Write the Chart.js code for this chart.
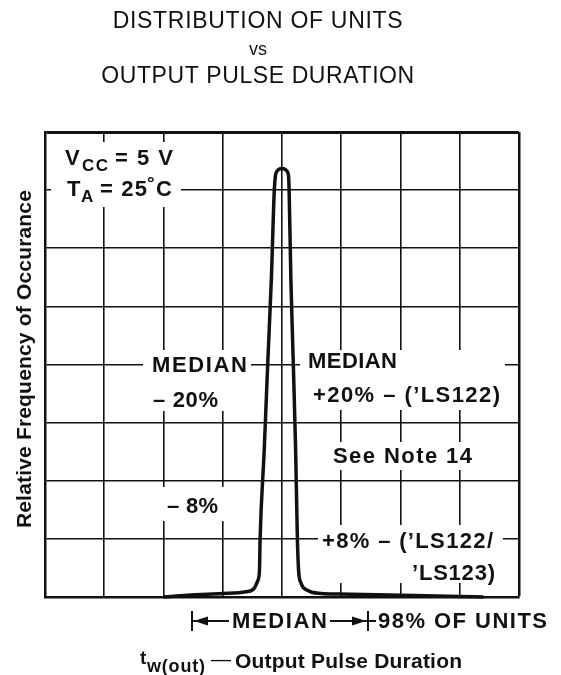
<!DOCTYPE html>
<html>
<head>
<meta charset="utf-8">
<script src="https://cdn.jsdelivr.net/npm/chart.js@4.4.1/dist/chart.umd.min.js"></script>
<style>
  html, body { margin: 0; padding: 0; background: #fff; }
  #wrap { position: relative; width: 561px; height: 675px; }
</style>
</head>
<body>
<div id="wrap"><canvas id="dist-chart" width="561" height="675"></canvas></div>
<script>
// x = pulse duration offset from the median (grid divisions), y = relative frequency (grid divisions)
const pulseOffsets = [-2.0, -1.6, -1.01, -0.61, -0.47, -0.41, -0.38, -0.37, -0.30, -0.24, -0.18, -0.13, -0.11, -0.08, -0.05, 0,
                      0.05, 0.08, 0.11, 0.12, 0.15, 0.19, 0.23, 0.26, 0.28, 0.32, 0.42, 0.66, 0.96, 2.01, 3.0, 3.4];
const frequencies  = [0, 0.03, 0.06, 0.09, 0.15, 0.28, 0.46, 0.98, 2.53, 4.04, 5.46, 7.0, 7.25, 7.33, 7.36, 7.37,
                      7.36, 7.33, 7.25, 7.0, 5.46, 4.04, 2.53, 0.98, 0.46, 0.24, 0.12, 0.06, 0.05, 0.03, 0.01, 0];
const xRange = [-4, 4];
const yRange = [0, 8];

const titleLines = ['DISTRIBUTION OF UNITS', 'vs', 'OUTPUT PULSE DURATION'];
const yAxisTitle = 'Relative Frequency of Occurance';

const INK = '#111';
const FONT = '"Liberation Sans", Arial, Helvetica, sans-serif';

// draw text, stretched with letter spacing to a target width
function fitText(ctx, text, x, y, w, size, weight) {
    ctx.font = `${weight || 'bold'} ${size}px ${FONT}`;
    ctx.letterSpacing = '0px';
    if (w) {
        const m = ctx.measureText(text).width;
        const n = Math.max(text.length - 1, 1);
        ctx.letterSpacing = ((w - m) / n) + 'px';
    }
    ctx.fillText(text, x, y);
    ctx.letterSpacing = '0px';
}

function arrowHead(ctx, tipX, y, dir) {
    ctx.beginPath();
    ctx.moveTo(tipX, y);
    ctx.lineTo(tipX - dir * 14, y - 4.5);
    ctx.lineTo(tipX - dir * 14, y + 4.5);
    ctx.closePath();
    ctx.fill();
}

const annotations = {
    id: 'annotations',
    beforeDatasetsDraw(chart) {
        const ctx = chart.ctx;
        ctx.save();

        // white blocks that break the grid behind the labels
        ctx.fillStyle = '#fff';
        [[51, 142, 181, 207], [143, 350, 251, 411], [157, 487, 226, 521],
         [300, 350, 505, 410], [327, 442, 478, 470], [318, 525, 503, 583]].forEach(b => {
            ctx.fillRect(b[0], b[1], b[2] - b[0], b[3] - b[1]);
        });

        ctx.fillStyle = INK;
        ctx.textAlign = 'left';
        ctx.textBaseline = 'alphabetic';

        // conditions
        fitText(ctx, 'V', 65, 165, 0, 22);
        fitText(ctx, 'CC', 82, 171, 26, 17);
        fitText(ctx, '= 5 V', 115, 165, 58, 22);
        fitText(ctx, 'T', 67, 196, 0, 22);
        fitText(ctx, 'A', 81, 202, 0, 17);
        fitText(ctx, '= 25', 100, 196, 47, 22);
        fitText(ctx, '°', 147, 189, 0, 19);
        fitText(ctx, 'C', 156, 196, 0, 22);

        // left-side limits
        fitText(ctx, 'MEDIAN', 152, 372, 95, 22);
        fitText(ctx, '– 20%', 153, 407, 65, 22);
        fitText(ctx, '– 8%', 167, 513, 51, 22);

        // right-side limits
        fitText(ctx, 'MEDIAN', 308, 368, 89, 22);
        fitText(ctx, '+20% – (’LS122)', 313, 402, 187, 22);
        fitText(ctx, 'See Note 14', 333, 463, 139, 22);
        fitText(ctx, '+8% – (’LS122/', 322, 548, 171, 22);
        fitText(ctx, '’LS123)', 412, 580, 83, 22);

        ctx.restore();
    },
    afterDraw(chart) {
        const ctx = chart.ctx;
        ctx.save();
        ctx.fillStyle = INK;
        ctx.strokeStyle = INK;
        ctx.textBaseline = 'alphabetic';

        // title
        ctx.textAlign = 'center';
        fitText(ctx, titleLines[0], 258, 28, 290, 23, 'normal');
        fitText(ctx, titleLines[1], 258, 55, 0, 18, 'normal');
        fitText(ctx, titleLines[2], 258, 83, 313, 23, 'normal');

        // y axis title
        ctx.save();
        ctx.translate(31, 359);
        ctx.rotate(-Math.PI / 2);
        fitText(ctx, yAxisTitle, 0, 0, 338, 21);
        ctx.restore();

        // |<- MEDIAN ->|- 98% OF UNITS
        ctx.textAlign = 'left';
        const ay = 621;
        ctx.lineWidth = 2;
        ctx.beginPath();
        ctx.moveTo(192, 611); ctx.lineTo(192, 631);
        ctx.moveTo(193, ay); ctx.lineTo(229, ay);
        ctx.moveTo(330, ay); ctx.lineTo(376, ay);
        ctx.moveTo(368, 611); ctx.lineTo(368, 631);
        ctx.stroke();
        arrowHead(ctx, 194, ay, -1);
        arrowHead(ctx, 366, ay, 1);
        fitText(ctx, 'MEDIAN', 232, 628, 95, 22);
        fitText(ctx, '98% OF UNITS', 378, 628, 169, 22);

        // x axis title
        fitText(ctx, 't', 140, 664, 0, 19);
        fitText(ctx, 'w(out)', 147, 672, 58, 18);
        fitText(ctx, '—', 211, 666, 20, 20, 'normal');
        fitText(ctx, 'Output Pulse Duration', 235, 668, 227, 21);

        ctx.restore();
    }
};

const ctx = document.getElementById('dist-chart').getContext('2d');
new Chart(ctx, {
    type: 'line',
    data: {
        datasets: [{
            data: pulseOffsets.map((x, i) => ({ x: x, y: frequencies[i] })),
            borderColor: INK,
            borderWidth: 3.5,
            pointRadius: 0,
            cubicInterpolationMode: 'monotone',
            fill: false,
            clip: 6
        }]
    },
    options: {
        responsive: false,
        animation: false,
        layout: { padding: { left: 45, right: 42, top: 132, bottom: 78 } },
        plugins: {
            legend: { display: false },
            tooltip: { enabled: false }
        },
        scales: {
            x: {
                type: 'linear',
                min: xRange[0],
                max: xRange[1],
                ticks: { display: false, stepSize: 1 },
                grid: {
                    color: INK,
                    lineWidth: (c) => (c.tick && c.tick.value === xRange[1]) ? 2.5 : 1.6,
                    drawTicks: false
                },
                border: { color: INK, width: 2.5 }
            },
            y: {
                min: yRange[0],
                max: yRange[1],
                ticks: { display: false, stepSize: 1 },
                grid: {
                    color: INK,
                    lineWidth: (c) => (c.tick && c.tick.value === yRange[1]) ? 3 : 1.6,
                    drawTicks: false
                },
                border: { color: INK, width: 2.5 }
            }
        }
    },
    plugins: [annotations]
});
</script>
</body>
</html>
